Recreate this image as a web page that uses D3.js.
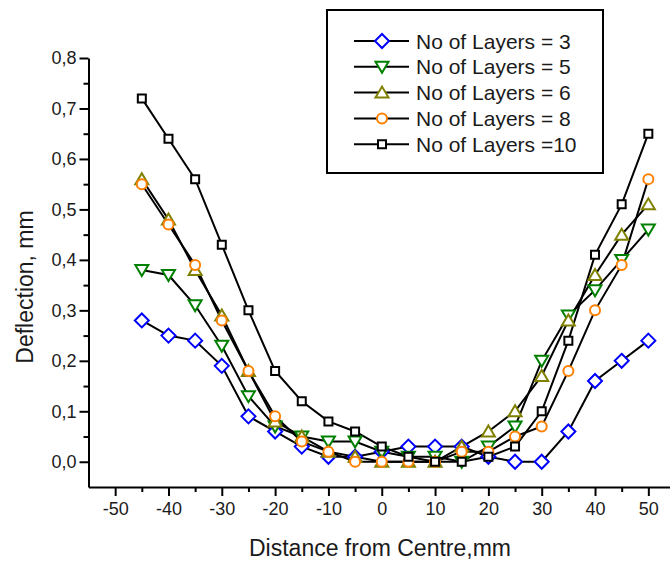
<!DOCTYPE html>
<html>
<head>
<meta charset="utf-8">
<script src="https://cdn.jsdelivr.net/npm/d3@7"></script>
<style>
  body { margin: 0; background: #fff; }
  svg { display: block; font-family: "Liberation Sans", Arial, sans-serif; }
</style>
</head>
<body>
<script>
// distance from centre, mm
const distance = [-45, -40, -35, -30, -25, -20, -15, -10, -5, 0, 5, 10, 15, 20, 25, 30, 35, 40, 45, 50];

// deflection, mm
const layers3  = [0.28, 0.25, 0.24, 0.19, 0.09, 0.06, 0.03, 0.01, 0.01, 0.02, 0.03, 0.03, 0.03, 0.01, 0.00, 0.00, 0.06, 0.16, 0.20, 0.24];
const layers5  = [0.38, 0.37, 0.31, 0.23, 0.13, 0.07, 0.05, 0.04, 0.04, 0.02, 0.01, 0.01, 0.00, 0.03, 0.07, 0.20, 0.29, 0.34, 0.40, 0.46];
const layers6  = [0.56, 0.48, 0.38, 0.29, 0.18, 0.08, 0.05, 0.02, 0.01, 0.00, 0.00, 0.00, 0.03, 0.06, 0.10, 0.17, 0.28, 0.37, 0.45, 0.51];
const layers8  = [0.55, 0.47, 0.39, 0.28, 0.18, 0.09, 0.04, 0.02, 0.00, 0.00, 0.00, 0.00, 0.02, 0.02, 0.05, 0.07, 0.18, 0.30, 0.39, 0.56];
const layers10 = [0.72, 0.64, 0.56, 0.43, 0.30, 0.18, 0.12, 0.08, 0.06, 0.03, 0.01, 0.00, 0.00, 0.01, 0.03, 0.10, 0.24, 0.41, 0.51, 0.65];

const seriesNames = ["No of Layers = 3", "No of Layers = 5", "No of Layers = 6", "No of Layers = 8", "No of Layers =10"];

const xTicks = [-50, -40, -30, -20, -10, 0, 10, 20, 30, 40, 50];
const xMinor = [-45, -35, -25, -15, -5, 5, 15, 25, 35, 45, 55];
const yTicks = [0, 0.1, 0.2, 0.3, 0.4, 0.5, 0.6, 0.7, 0.8];
const yMinor = [0.05, 0.15, 0.25, 0.35, 0.45, 0.55, 0.65, 0.75];

const W = 670, H = 561;

const series = [
  {name: seriesNames[0], values: layers3,  color: "#0000ff", shape: "diamond"},
  {name: seriesNames[1], values: layers5,  color: "#008000", shape: "tridown"},
  {name: seriesNames[2], values: layers6,  color: "#808000", shape: "triup"},
  {name: seriesNames[3], values: layers8,  color: "#ff8000", shape: "circle"},
  {name: seriesNames[4], values: layers10, color: "#000000", shape: "square"}
];

// marker outlines, drawn around 0,0
function markerPath(shape) {
  switch (shape) {
    case "diamond": return "M0,-7L7,0L0,7L-7,0Z";
    case "tridown": return "M-6.5,-5L6.5,-5L0,6Z";
    case "triup":   return "M-6.5,5L6.5,5L0,-6Z";
    case "circle":  return "M5,0A5,5 0 1,1 -5,0A5,5 0 1,1 5,0Z";
    case "square":  return "M-4,-4L4,-4L4,4L-4,4Z";
  }
}

const svg = d3.select("body").append("svg")
  .attr("width", W)
  .attr("height", H);

const x = d3.scaleLinear().domain([-55, 55]).range([88.5, 675]);
const y = d3.scaleLinear().domain([-0.05, 0.8]).range([487, 58]);

const fmt = d => d3.format(".1f")(d).replace(".", ",");

// axes
svg.append("g")
  .attr("transform", "translate(" + x(-55) + ",0)")
  .call(d3.axisLeft(y).tickValues(yTicks).tickSize(9).tickPadding(3).tickFormat(fmt).tickSizeOuter(0));
svg.append("g")
  .attr("transform", "translate(" + x(-55) + ",0)")
  .call(d3.axisLeft(y).tickValues(yMinor).tickSize(5).tickFormat("").tickSizeOuter(0))
  .select(".domain").remove();

svg.append("g")
  .attr("transform", "translate(0," + y(-0.05) + ")")
  .call(d3.axisBottom(x).tickValues(xTicks).tickSize(9).tickPadding(6).tickFormat(d => String(d)).tickSizeOuter(0));
svg.append("g")
  .attr("transform", "translate(0," + y(-0.05) + ")")
  .call(d3.axisBottom(x).tickValues(xMinor).tickSize(5).tickFormat("").tickSizeOuter(0))
  .select(".domain").remove();

svg.selectAll(".tick line, .domain").attr("stroke", "#000").attr("stroke-width", 2);
svg.selectAll(".tick text").attr("font-size", 18).attr("fill", "#1a1a1a")
  .attr("font-family", "'Liberation Sans', Arial, sans-serif");

// axis titles
svg.append("text")
  .attr("x", 380)
  .attr("y", 556)
  .attr("text-anchor", "middle")
  .attr("font-size", 23)
  .attr("fill", "#1a1a1a")
  .text("Distance from Centre,mm");

svg.append("text")
  .attr("transform", "translate(33,287)rotate(-90)")
  .attr("text-anchor", "middle")
  .attr("font-size", 23)
  .attr("fill", "#1a1a1a")
  .text("Deflection, mm");

// lines first, then markers on top
const line = d3.line()
  .x((d, i) => x(distance[i]))
  .y(d => y(d));

svg.append("g").selectAll("path")
  .data(series)
  .enter()
  .append("path")
  .attr("d", s => line(s.values))
  .attr("fill", "none")
  .attr("stroke", "#000")
  .attr("stroke-width", 2);

series.forEach(s => {
  svg.append("g").selectAll("path")
    .data(s.values)
    .enter()
    .append("path")
    .attr("transform", (d, i) => "translate(" + x(distance[i]) + "," + y(d) + ")")
    .attr("d", markerPath(s.shape))
    .attr("fill", "#fff")
    .attr("stroke", s.color)
    .attr("stroke-width", 2);
});

// legend
const legend = svg.append("g");
legend.append("rect")
  .attr("x", 327).attr("y", 10)
  .attr("width", 276).attr("height", 163)
  .attr("fill", "#fff")
  .attr("stroke", "#000")
  .attr("stroke-width", 2);

const rows = legend.selectAll("g.row")
  .data(series)
  .enter()
  .append("g")
  .attr("class", "row")
  .attr("transform", (s, i) => "translate(0," + (41 + i * 25.8) + ")");

rows.append("line")
  .attr("x1", 354).attr("x2", 409)
  .attr("stroke", "#000").attr("stroke-width", 2);
rows.append("path")
  .attr("transform", "translate(382,0)")
  .attr("d", s => markerPath(s.shape))
  .attr("fill", "#fff")
  .attr("stroke", s => s.color)
  .attr("stroke-width", 2);
rows.append("text")
  .attr("x", 416)
  .attr("dy", "0.36em")
  .attr("font-size", 21)
  .attr("fill", "#1a1a1a")
  .text(s => s.name);
</script>
</body>
</html>
